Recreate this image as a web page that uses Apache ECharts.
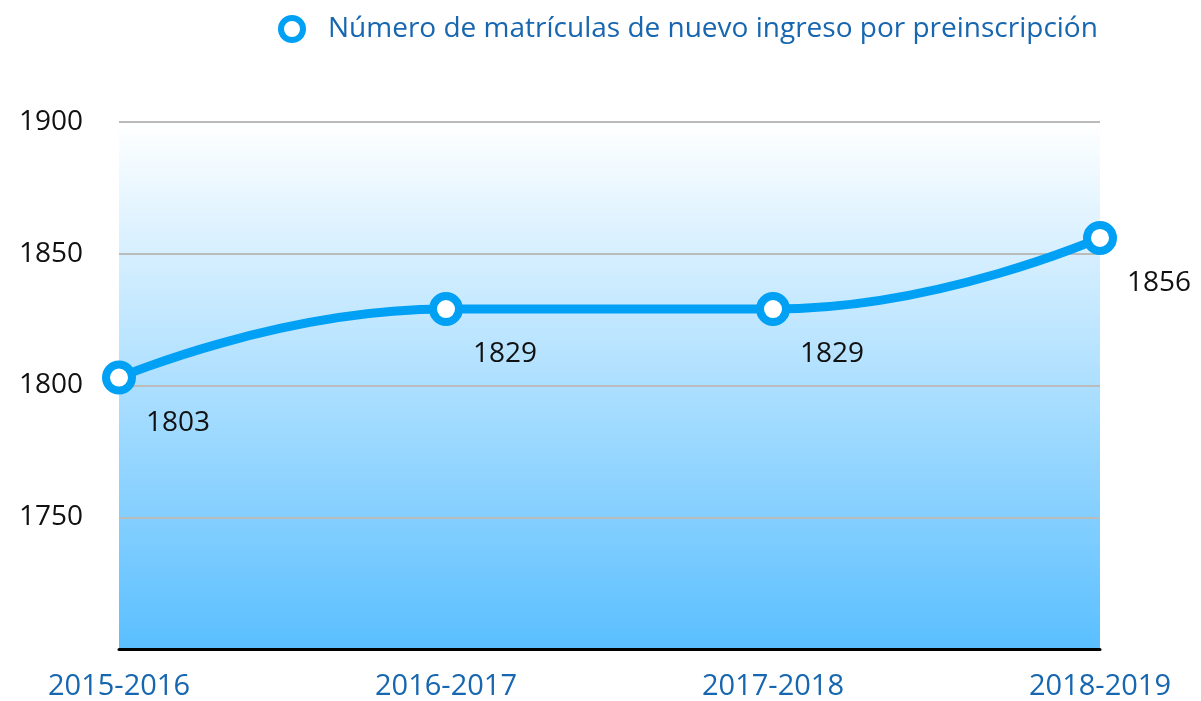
<!DOCTYPE html>
<html>
<head>
<meta charset="utf-8">
<script src="https://cdn.jsdelivr.net/npm/echarts@6/dist/echarts.min.js"></script>
<style>
  html, body { margin:0; padding:0; background:#fff; }
  #chart { width:1201px; height:701px; }
</style>
</head>
<body>
<div id="chart"></div>
<script>
// datos del gráfico
const seriesName = 'Número de matrículas de nuevo ingreso por preinscripción';
const categories = ['2015-2016', '2016-2017', '2017-2018', '2018-2019'];
const values = [1803, 1829, 1829, 1856];

const fontFamily = '"Open Sans", "Noto Sans", sans-serif';
const blue = '#00a0f5';
const textBlue = '#1766b0';

const chart = echarts.init(document.getElementById('chart'), null, { renderer: 'canvas' });
chart.setOption({
  animation: false,
  legend: {
    data: [{ name: seriesName, icon: 'circle', itemStyle: { color: '#ffffff', borderColor: blue, borderWidth: 6 } }],
    top: 10,
    left: 273,
    itemWidth: 22,
    itemHeight: 22,
    itemGap: 10,
    textStyle: { color: textBlue, fontSize: 28, fontFamily: fontFamily, padding: [0, 0, 0, 20] }
  },
  grid: {
    left: 119, right: 101, top: 122, bottom: 51,
    show: true,
    borderWidth: 0,
    backgroundColor: new echarts.graphic.LinearGradient(0, 0, 0, 1, [
      { offset: 0, color: '#ffffff' },
      { offset: 1, color: '#5abfff' }
    ])
  },
  xAxis: {
    type: 'category',
    data: categories,
    boundaryGap: false,
    axisLine: { lineStyle: { color: '#000', width: 3 } },
    axisTick: { show: false },
    axisLabel: { color: textBlue, fontSize: 29, fontFamily: fontFamily, margin: 23 }
  },
  yAxis: {
    type: 'value',
    min: 1700, max: 1900, interval: 50,
    axisLine: { show: false },
    axisTick: { show: false },
    axisLabel: {
      showMinLabel: false, color: '#111', fontSize: 28, fontFamily: fontFamily, margin: 36,
      formatter: v => String(v)
    },
    splitLine: { lineStyle: { color: '#bbbbbb', width: 2 } }
  },
  series: [{
    name: seriesName,
    type: 'line',
    data: values,
    smooth: 0.5,
    symbol: 'circle',
    symbolSize: 26,
    itemStyle: { color: '#ffffff', borderColor: blue, borderWidth: 8 },
    lineStyle: { color: blue, width: 9 },
    label: {
      show: true,
      position: 'inside',
      offset: [59, 45],
      color: '#111',
      fontSize: 28,
      fontFamily: fontFamily
    }
  }]
});
</script>
</body>
</html>
